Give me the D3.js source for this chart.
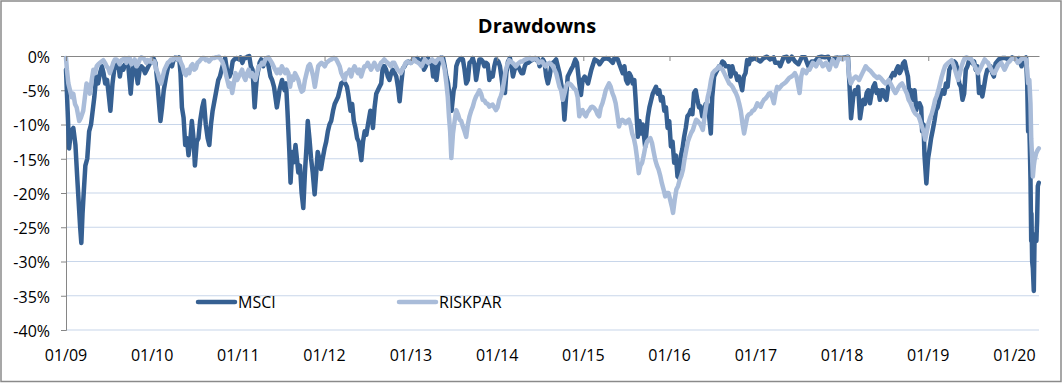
<!DOCTYPE html>
<html>
<head>
<meta charset="utf-8">
<script src="https://cdn.jsdelivr.net/npm/d3@7"></script>
<style>
  body { margin: 0; background: #fff; }
  svg { display: block; font-family: "Open Sans", sans-serif; }
</style>
</head>
<body>
<svg id="chart" width="1063" height="384"></svg>
<script>
// drawdown series, % from previous peak
var msci = [
  ["2009-01-01",-2],["2009-01-08",-8],["2009-01-14",-13.5],["2009-01-22",-11],["2009-02-01",-10.5],["2009-02-10",-13],["2009-02-18",-18],["2009-03-02",-25],["2009-03-07",-27.3],["2009-03-12",-23],["2009-03-17",-20],["2009-03-24",-16],["2009-04-01",-15],["2009-04-09",-11],["2009-04-17",-10],["2009-04-24",-8],["2009-05-01",-6],["2009-05-09",-3],["2009-05-17",-4],["2009-05-25",-2.5],["2009-06-02",-1.5],["2009-06-09",-2.5],["2009-06-16",-4],["2009-06-24",-3.5],["2009-07-02",-6],["2009-07-08",-8],["2009-07-17",-4],["2009-07-24",-2],["2009-08-01",-1.5],["2009-08-10",-1],["2009-08-17",-3],["2009-08-24",-1.5],["2009-09-01",-2],["2009-09-08",-1.2],["2009-09-16",-1],["2009-09-22",-1.5],["2009-10-02",-5.5],["2009-10-09",-2.5],["2009-10-16",-1],["2009-10-23",-2],["2009-11-01",-4],["2009-11-09",-2],["2009-11-16",-1.5],["2009-11-24",-1.8],["2009-12-02",-2.5],["2009-12-09",-2],["2009-12-16",-1.5],["2009-12-24",-1],
  ["2010-01-06",-0.3],["2010-01-15",-1],["2010-01-22",-3.5],["2010-01-29",-6.5],["2010-02-05",-9.5],["2010-02-12",-7.5],["2010-02-19",-5],["2010-03-01",-3],["2010-03-10",-1.5],["2010-03-18",-1],["2010-03-26",-1.5],["2010-04-02",-0.5],["2010-04-10",-0.2],["2010-04-17",-0.5],["2010-04-25",-0.2],["2010-05-01",-2.5],["2010-05-07",-7.5],["2010-05-14",-9],["2010-05-21",-13],["2010-05-28",-12],["2010-06-04",-14.5],["2010-06-11",-12.5],["2010-06-18",-9.5],["2010-06-25",-12],["2010-07-01",-16],["2010-07-09",-12.5],["2010-07-16",-12],["2010-07-23",-9.5],["2010-08-01",-7.5],["2010-08-08",-6.5],["2010-08-16",-10],["2010-08-24",-12],["2010-08-31",-13],["2010-09-07",-10],["2010-09-14",-8],["2010-09-22",-6.5],["2010-09-30",-5],["2010-10-08",-3.5],["2010-10-15",-3],["2010-10-22",-2],["2010-10-30",-1],["2010-11-06",-0.3],["2010-11-16",-2.5],["2010-11-24",-3],["2010-11-30",-2.5],["2010-12-08",-0.8],["2010-12-15",-0.5],["2010-12-24",-0.3],
  ["2011-01-03",-0.5],["2011-01-10",-0.2],["2011-01-18",-1],["2011-01-25",-0.3],["2011-02-01",-0.3],["2011-02-09",-0.1],["2011-02-16",0],["2011-02-23",-1.5],["2011-03-02",-2],["2011-03-11",-7.5],["2011-03-16",-5],["2011-03-21",-3],["2011-04-01",-1],["2011-04-08",-0.5],["2011-04-16",-1.5],["2011-04-25",-0.5],["2011-05-02",-0.3],["2011-05-09",-1.5],["2011-05-17",-3],["2011-05-24",-3.5],["2011-06-01",-4.5],["2011-06-07",-6],["2011-06-13",-7.5],["2011-06-20",-6],["2011-06-24",-5],["2011-07-05",-3.5],["2011-07-11",-4.5],["2011-07-16",-5],["2011-07-22",-4],["2011-07-28",-8],["2011-08-05",-14],["2011-08-10",-18.5],["2011-08-17",-14],["2011-08-24",-15.5],["2011-08-31",-13],["2011-09-06",-15],["2011-09-12",-17],["2011-09-19",-16],["2011-09-26",-20],["2011-10-03",-22.2],["2011-10-10",-17],["2011-10-17",-13],["2011-10-22",-9.5],["2011-10-29",-12],["2011-11-05",-15],["2011-11-12",-17],["2011-11-20",-20.2],["2011-11-27",-17],["2011-12-03",-14],["2011-12-10",-15],["2011-12-17",-16.5],["2011-12-24",-15],
  ["2012-01-01",-13.5],["2012-01-08",-12.5],["2012-01-15",-11],["2012-01-22",-10],["2012-01-29",-9.5],["2012-02-06",-8],["2012-02-13",-7],["2012-02-20",-6.5],["2012-02-27",-6],["2012-03-05",-5],["2012-03-12",-4],["2012-03-20",-3.8],["2012-03-29",-4],["2012-04-05",-4.5],["2012-04-10",-5.5],["2012-04-20",-8],["2012-04-27",-7],["2012-05-04",-9.5],["2012-05-11",-10.5],["2012-05-18",-12],["2012-05-25",-12.5],["2012-06-05",-15.2],["2012-06-12",-12.5],["2012-06-19",-11],["2012-06-26",-11.5],["2012-07-03",-10],["2012-07-13",-8],["2012-07-20",-9],["2012-07-24",-10.5],["2012-07-31",-7.5],["2012-08-07",-5.5],["2012-08-14",-5],["2012-08-21",-4.5],["2012-08-28",-4],["2012-09-04",-1.5],["2012-09-11",-1.5],["2012-09-18",-2],["2012-09-25",-3],["2012-10-02",-3.5],["2012-10-09",-2.5],["2012-10-16",-2],["2012-10-24",-2.5],["2012-10-31",-3],["2012-11-07",-4.5],["2012-11-14",-6.6],["2012-11-21",-4],["2012-11-28",-1.8],["2012-12-05",-1.5],["2012-12-12",-1],["2012-12-20",-0.8],
  ["2013-01-01",-1],["2013-01-10",-0.5],["2013-01-18",-0.5],["2013-01-28",-0.3],["2013-02-08",-1],["2013-02-18",-0.5],["2013-02-25",-2],["2013-03-05",-1.5],["2013-03-14",-0.3],["2013-03-22",-1],["2013-03-29",-0.8],["2013-04-05",-3],["2013-04-12",-1],["2013-04-19",-3.5],["2013-04-26",-1.5],["2013-05-03",-0.5],["2013-05-10",-0.2],["2013-05-17",-0.3],["2013-05-24",-1.5],["2013-05-31",-3],["2013-06-07",-4],["2013-06-14",-6],["2013-06-22",-8],["2013-07-01",-5],["2013-07-06",-4.5],["2013-07-12",-1.5],["2013-07-19",-0.8],["2013-07-26",-0.5],["2013-08-02",-0.3],["2013-08-09",-0.5],["2013-08-16",-2],["2013-08-23",-4],["2013-08-30",-3.5],["2013-09-06",-1],["2013-09-13",-0.8],["2013-09-20",-0.3],["2013-09-27",-1.2],["2013-10-04",-3.5],["2013-10-11",-2],["2013-10-18",-0.5],["2013-10-25",-0.5],["2013-11-01",-0.8],["2013-11-08",-1.5],["2013-11-15",-1],["2013-11-22",-1.2],["2013-11-29",-3.5],["2013-12-06",-2.5],["2013-12-13",-3],["2013-12-20",-1.5],["2013-12-27",-0.5],
  ["2014-01-06",-0.8],["2014-01-13",-1.5],["2014-01-19",-3],["2014-01-26",-5],["2014-02-03",-5.4],["2014-02-09",-2.5],["2014-02-16",-0.8],["2014-02-24",-0.3],["2014-03-03",-1.5],["2014-03-09",-3],["2014-03-16",-2],["2014-03-24",-1.5],["2014-03-31",-1.5],["2014-04-07",-2],["2014-04-14",-2.5],["2014-04-21",-2.5],["2014-04-28",-1.5],["2014-05-05",-1],["2014-05-12",-1],["2014-05-20",-0.8],["2014-06-02",-0.5],["2014-06-10",-0.3],["2014-06-17",-0.6],["2014-06-24",-0.5],["2014-06-30",-1.5],["2014-07-07",-1],["2014-07-14",-0.5],["2014-07-21",-1],["2014-07-28",-3],["2014-08-04",-4],["2014-08-11",-3],["2014-08-18",-1.5],["2014-08-25",-1],["2014-09-01",-0.8],["2014-09-08",-0.5],["2014-09-15",-1.5],["2014-09-22",-2.5],["2014-09-29",-4],["2014-10-06",-5.5],["2014-10-13",-9.3],["2014-10-20",-6],["2014-10-27",-3],["2014-11-03",-2.5],["2014-11-10",-2],["2014-11-18",-1.5],["2014-11-28",-0.5],["2014-12-05",-1],["2014-12-15",-4],["2014-12-22",-5.7],["2014-12-29",-3.5],
  ["2015-01-07",-3],["2015-01-21",-4],["2015-02-04",-2],["2015-02-18",-0.5],["2015-03-04",-0.8],["2015-03-11",-1.2],["2015-03-25",-0.5],["2015-04-08",-0.3],["2015-04-22",-0.5],["2015-05-06",-1],["2015-05-13",-0.3],["2015-05-27",-0.5],["2015-06-03",-1.2],["2015-06-17",-2.5],["2015-06-24",-1.5],["2015-07-01",-3.5],["2015-07-08",-4],["2015-07-15",-2.5],["2015-07-22",-3],["2015-07-29",-4],["2015-08-05",-3.5],["2015-08-10",-6],["2015-08-20",-11.8],["2015-08-27",-9.5],["2015-09-03",-11.3],["2015-09-10",-10],["2015-09-20",-13.3],["2015-10-01",-9],["2015-10-08",-7.5],["2015-10-15",-6.5],["2015-10-22",-5.5],["2015-10-29",-5],["2015-11-05",-4.5],["2015-11-12",-5.5],["2015-11-19",-5],["2015-11-26",-6.5],["2015-12-03",-6],["2015-12-10",-8],["2015-12-17",-7.5],["2015-12-24",-10.5],["2015-12-31",-9.5],
  ["2016-01-07",-13.2],["2016-01-14",-12.5],["2016-01-21",-15.6],["2016-01-28",-14.5],["2016-02-04",-17.6],["2016-02-11",-17.8],["2016-02-18",-14.6],["2016-02-25",-13.5],["2016-03-03",-11.8],["2016-03-10",-10.5],["2016-03-17",-8.8],["2016-03-24",-8.5],["2016-03-31",-7.9],["2016-04-07",-8.5],["2016-04-14",-5.4],["2016-04-21",-5],["2016-04-28",-6.4],["2016-05-05",-7.5],["2016-05-12",-7.4],["2016-05-19",-8.8],["2016-05-26",-8.4],["2016-06-02",-7],["2016-06-09",-7],["2016-06-16",-8.5],["2016-06-24",-11.3],["2016-06-30",-6],["2016-07-08",-3],["2016-07-15",-2.5],["2016-07-22",-2],["2016-07-29",-1.5],["2016-08-05",-1.5],["2016-08-12",-0.8],["2016-08-19",-1],["2016-08-26",-1.5],["2016-09-09",-1.5],["2016-09-16",-3],["2016-09-23",-1.5],["2016-09-30",-2.5],["2016-10-07",-2.5],["2016-10-14",-3.5],["2016-10-21",-3],["2016-10-28",-4],["2016-11-04",-5],["2016-11-11",-3],["2016-11-18",-2.5],["2016-11-25",-0.6],["2016-12-02",-1.2],["2016-12-09",-0.3],["2016-12-16",-0.5],["2016-12-23",-0.3],
  ["2017-01-06",-0.5],["2017-01-20",-0.8],["2017-02-03",-0.3],["2017-02-17",-0.1],["2017-03-03",-0.5],["2017-03-17",-0.2],["2017-03-24",-1],["2017-04-07",-1],["2017-04-14",-1.5],["2017-04-28",-0.2],["2017-05-12",-0.1],["2017-05-19",-0.8],["2017-06-02",-0.1],["2017-06-16",-0.8],["2017-06-30",-1.2],["2017-07-14",-0.2],["2017-07-28",-0.2],["2017-08-11",-1.5],["2017-08-25",-0.8],["2017-09-08",-0.8],["2017-09-22",-0.2],["2017-10-06",-0.1],["2017-10-20",-0.2],["2017-11-03",-0.1],["2017-11-17",-1],["2017-12-01",-0.3],["2017-12-15",-0.2],["2017-12-29",-0.3],
  ["2018-01-12",-0.2],["2018-01-26",-0.1],["2018-02-01",-4],["2018-02-08",-9.1],["2018-02-17",-6],["2018-02-24",-5],["2018-03-03",-5.5],["2018-03-10",-4.5],["2018-03-18",-9.1],["2018-03-25",-7.5],["2018-04-01",-6.4],["2018-04-08",-7],["2018-04-15",-5.4],["2018-04-22",-5],["2018-04-29",-6.9],["2018-05-06",-5.5],["2018-05-13",-4.5],["2018-05-20",-4],["2018-05-27",-5.4],["2018-06-03",-5],["2018-06-10",-6.4],["2018-06-17",-5],["2018-06-24",-5],["2018-07-01",-6],["2018-07-08",-6.4],["2018-07-15",-4.5],["2018-07-22",-3.5],["2018-07-29",-3],["2018-08-05",-2.5],["2018-08-12",-2.8],["2018-08-19",-2],["2018-08-26",-1.5],["2018-09-02",-2.5],["2018-09-09",-2],["2018-09-16",-1.1],["2018-09-23",-0.8],["2018-09-30",-2],["2018-10-07",-3],["2018-10-14",-5.9],["2018-10-21",-5],["2018-10-28",-6.4],["2018-11-04",-5],["2018-11-11",-7.9],["2018-11-18",-7],["2018-11-25",-6.9],["2018-12-02",-7.5],["2018-12-06",-11],["2018-12-12",-10],["2018-12-16",-14.5],["2018-12-24",-18.6],["2018-12-31",-15],
  ["2019-01-06",-13.7],["2019-01-13",-12],["2019-01-20",-10.8],["2019-01-27",-9.5],["2019-02-03",-7.9],["2019-02-10",-7.5],["2019-02-17",-6.4],["2019-02-24",-5.5],["2019-03-03",-5],["2019-03-10",-5.5],["2019-03-17",-4],["2019-03-24",-4.5],["2019-03-31",-2],["2019-04-07",-1.5],["2019-04-14",-1.1],["2019-04-21",-0.8],["2019-04-28",-1.1],["2019-05-05",-2],["2019-05-12",-4],["2019-05-19",-4.5],["2019-05-26",-6.4],["2019-06-02",-5.5],["2019-06-09",-2],["2019-06-16",-1.5],["2019-06-23",-0.6],["2019-06-30",-0.5],["2019-07-07",-1.1],["2019-07-14",-0.8],["2019-07-21",-2],["2019-07-28",-1.5],["2019-08-04",-5.4],["2019-08-11",-4.5],["2019-08-18",-5.9],["2019-08-25",-4.5],["2019-09-01",-3],["2019-09-08",-2],["2019-09-15",-2],["2019-09-22",-1.5],["2019-09-29",-2.5],["2019-10-06",-3],["2019-10-13",-1.1],["2019-10-20",-0.8],["2019-10-27",-0.5],["2019-11-10",-0.3],["2019-11-24",-0.3],["2019-12-08",-0.5],["2019-12-22",-0.2],
  ["2020-01-05",-0.5],["2020-01-19",-0.3],["2020-01-31",-1.5],["2020-02-09",-0.5],["2020-02-19",-0.2],["2020-02-24",-4],["2020-02-28",-11],["2020-03-03",-9],["2020-03-06",-13],["2020-03-09",-18],["2020-03-12",-27],["2020-03-13",-23],["2020-03-16",-30],["2020-03-19",-31],["2020-03-23",-34.3],["2020-03-26",-27],["2020-03-31",-26],["2020-04-03",-27],["2020-04-06",-24],["2020-04-09",-19],["2020-04-13",-18.5]
];

var riskpar = [
  ["2009-01-01",-0.3],["2009-01-05",-2],["2009-01-11",-4],["2009-01-18",-5],["2009-01-25",-6],["2009-02-01",-5.5],["2009-02-08",-7],["2009-02-15",-7.5],["2009-02-26",-9.5],["2009-03-05",-9],["2009-03-15",-8],["2009-03-22",-6],["2009-03-29",-4],["2009-04-05",-4.5],["2009-04-12",-5.5],["2009-04-20",-3.5],["2009-04-27",-2],["2009-05-04",-2.5],["2009-05-11",-1.5],["2009-05-18",-1.2],["2009-05-25",-1],["2009-06-01",-0.8],["2009-06-08",-0.6],["2009-06-15",-1],["2009-06-22",-1.5],["2009-06-29",-1.8],["2009-07-06",-2.5],["2009-07-13",-1.8],["2009-07-20",-1],["2009-07-27",-0.5],["2009-08-03",-0.5],["2009-08-10",-0.8],["2009-08-17",-1.2],["2009-08-24",-0.6],["2009-08-31",-0.5],["2009-09-07",-0.3],["2009-09-14",-1],["2009-09-21",-0.3],["2009-09-28",-0.3],["2009-10-05",-1.2],["2009-10-12",-1],["2009-10-19",-0.5],["2009-10-26",-1.5],["2009-11-02",-1.2],["2009-11-09",-0.5],["2009-11-16",-0.2],["2009-11-23",-0.3],["2009-11-30",-0.5],["2009-12-07",-1],["2009-12-14",-0.6],["2009-12-21",-0.8],["2009-12-28",-0.5],
  ["2010-01-04",-1],["2010-01-11",-0.8],["2010-01-18",-2],["2010-01-25",-2.5],["2010-02-01",-3.5],["2010-02-08",-4],["2010-02-15",-3],["2010-02-22",-2],["2010-03-01",-1.5],["2010-03-08",-1],["2010-03-15",-0.8],["2010-03-22",-0.5],["2010-03-29",-0.6],["2010-04-05",-0.3],["2010-04-12",-0.2],["2010-04-19",-0.5],["2010-04-26",-0.3],["2010-05-03",-1],["2010-05-10",-1.5],["2010-05-17",-2.5],["2010-05-24",-2.8],["2010-05-31",-2],["2010-06-07",-2.5],["2010-06-14",-1.5],["2010-06-21",-1.2],["2010-06-28",-2],["2010-07-05",-1.8],["2010-07-12",-1],["2010-07-19",-0.8],["2010-07-26",-0.5],["2010-08-02",-0.3],["2010-08-09",-0.3],["2010-08-16",-0.6],["2010-08-23",-0.5],["2010-08-30",-0.8],["2010-09-06",-0.5],["2010-09-13",-0.3],["2010-09-20",-0.3],["2010-09-27",-0.2],["2010-10-04",-0.2],["2010-10-11",-0.1],["2010-10-18",-0.5],["2010-10-25",-0.8],["2010-11-01",-1.5],["2010-11-08",-2.5],["2010-11-15",-3.5],["2010-11-22",-4.5],["2010-11-29",-4],["2010-12-06",-5.4],["2010-12-13",-4],["2010-12-20",-2.5],["2010-12-27",-3.5],
  ["2011-01-03",-3],["2011-01-10",-2.5],["2011-01-17",-2],["2011-01-24",-3],["2011-01-31",-3.5],["2011-02-07",-2.5],["2011-02-14",-2],["2011-02-21",-3],["2011-02-28",-2.5],["2011-03-07",-3],["2011-03-14",-3.5],["2011-03-21",-2.5],["2011-03-28",-1.5],["2011-04-04",-1.5],["2011-04-11",-1],["2011-04-18",-1.2],["2011-04-25",-0.5],["2011-05-02",-0.3],["2011-05-09",-0.2],["2011-05-16",-0.6],["2011-05-23",-1],["2011-05-30",-1.5],["2011-06-06",-2],["2011-06-13",-2.5],["2011-06-20",-2],["2011-06-27",-2.5],["2011-07-04",-1.5],["2011-07-11",-2],["2011-07-18",-2.5],["2011-07-25",-2],["2011-08-01",-2.5],["2011-08-08",-4.5],["2011-08-15",-3],["2011-08-22",-3.5],["2011-08-29",-2.5],["2011-09-05",-3],["2011-09-12",-3.5],["2011-09-19",-4.5],["2011-09-26",-5.2],["2011-10-03",-5],["2011-10-10",-3.5],["2011-10-17",-2.5],["2011-10-24",-1.5],["2011-10-31",-1.2],["2011-11-07",-2],["2011-11-14",-3],["2011-11-21",-4.5],["2011-11-28",-3],["2011-12-05",-1.5],["2011-12-12",-1.2],["2011-12-19",-1],["2011-12-26",-1.2],
  ["2012-01-02",-1.5],["2012-01-09",-1],["2012-01-16",-0.8],["2012-01-23",-0.6],["2012-01-30",-0.5],["2012-02-06",-0.3],["2012-02-13",-0.3],["2012-02-20",-0.5],["2012-02-27",-1],["2012-03-05",-1.5],["2012-03-12",-2.5],["2012-03-19",-3],["2012-03-26",-3.5],["2012-04-02",-2.5],["2012-04-09",-2.5],["2012-04-16",-2],["2012-04-23",-3],["2012-04-30",-2],["2012-05-07",-1.5],["2012-05-14",-2],["2012-05-21",-2.5],["2012-05-28",-2],["2012-06-04",-3],["2012-06-11",-2.2],["2012-06-18",-1.5],["2012-06-25",-1.5],["2012-07-02",-1],["2012-07-09",-1.5],["2012-07-16",-2],["2012-07-23",-1.5],["2012-07-30",-1],["2012-08-06",-1.5],["2012-08-13",-2],["2012-08-20",-1.5],["2012-08-27",-1],["2012-09-03",-0.8],["2012-09-10",-0.5],["2012-09-17",-0.8],["2012-09-24",-1],["2012-10-01",-1.2],["2012-10-08",-1.5],["2012-10-15",-1],["2012-10-22",-1],["2012-10-29",-1.5],["2012-11-05",-2],["2012-11-12",-2.2],["2012-11-19",-2.5],["2012-11-26",-2],["2012-12-03",-1.5],["2012-12-10",-1],["2012-12-17",-0.8],["2012-12-24",-1],
  ["2013-01-01",-1],["2013-01-08",-0.8],["2013-01-15",-0.5],["2013-01-22",-0.8],["2013-02-01",-1],["2013-02-08",-1.2],["2013-02-15",-1.5],["2013-02-22",-1],["2013-03-01",-0.5],["2013-03-08",-0.8],["2013-03-15",-1],["2013-03-22",-0.8],["2013-04-01",-0.5],["2013-04-08",-0.8],["2013-04-15",-1],["2013-04-22",-0.6],["2013-05-01",-0.3],["2013-05-10",-0.2],["2013-05-17",-1],["2013-05-24",-2],["2013-05-31",-4],["2013-06-06",-6],["2013-06-11",-8.8],["2013-06-16",-11],["2013-06-21",-14.9],["2013-06-28",-11.3],["2013-07-05",-9.5],["2013-07-12",-7.9],["2013-07-19",-8.5],["2013-07-26",-9.3],["2013-08-02",-9.5],["2013-08-09",-10.3],["2013-08-16",-11],["2013-08-23",-11.8],["2013-08-30",-10],["2013-09-06",-8.8],["2013-09-13",-8],["2013-09-20",-7.4],["2013-09-27",-6.5],["2013-10-04",-5.9],["2013-10-11",-5.5],["2013-10-18",-5],["2013-10-25",-5.5],["2013-11-01",-6.4],["2013-11-08",-6.5],["2013-11-15",-6.9],["2013-11-22",-7],["2013-11-29",-7.4],["2013-12-06",-7.2],["2013-12-13",-7.1],["2013-12-20",-7.5],["2013-12-27",-7.9],
  ["2014-01-03",-7.5],["2014-01-10",-6.4],["2014-01-17",-5.8],["2014-01-24",-5],["2014-01-31",-3.5],["2014-02-07",-2],["2014-02-14",-1.2],["2014-02-21",-0.6],["2014-02-28",-0.8],["2014-03-07",-1],["2014-03-14",-1.2],["2014-03-21",-1.5],["2014-03-28",-1.2],["2014-04-04",-1],["2014-04-11",-0.8],["2014-04-18",-0.8],["2014-04-25",-0.6],["2014-05-02",-0.5],["2014-05-09",-0.4],["2014-05-16",-0.3],["2014-05-23",-0.3],["2014-05-30",-0.5],["2014-06-06",-0.4],["2014-06-13",-0.3],["2014-06-20",-0.6],["2014-06-27",-1],["2014-07-04",-0.8],["2014-07-11",-0.8],["2014-07-18",-1.2],["2014-07-25",-1.5],["2014-08-01",-1.2],["2014-08-11",-1],["2014-08-18",-1.2],["2014-08-25",-1.5],["2014-09-01",-2],["2014-09-08",-2.5],["2014-09-15",-3.5],["2014-09-22",-4.5],["2014-09-29",-5],["2014-10-06",-6.4],["2014-10-13",-5.5],["2014-10-20",-4.5],["2014-10-27",-4],["2014-11-03",-4],["2014-11-10",-4.2],["2014-11-17",-4.5],["2014-11-24",-4.8],["2014-12-01",-5],["2014-12-08",-6],["2014-12-15",-8.8],["2014-12-22",-8],["2014-12-29",-7.9],
  ["2015-01-05",-8.5],["2015-01-12",-8.8],["2015-01-19",-8.2],["2015-01-26",-7.9],["2015-02-02",-7.5],["2015-02-09",-7.4],["2015-02-16",-7.6],["2015-02-23",-7.9],["2015-03-02",-8.5],["2015-03-09",-8.8],["2015-03-16",-7.5],["2015-03-23",-6.9],["2015-03-30",-6],["2015-04-06",-5],["2015-04-13",-4.5],["2015-04-20",-4],["2015-04-27",-4.5],["2015-05-04",-5.4],["2015-05-11",-6],["2015-05-18",-6.9],["2015-05-25",-8.5],["2015-06-01",-10.3],["2015-06-08",-9.5],["2015-06-15",-9.3],["2015-06-22",-9.5],["2015-06-29",-9.8],["2015-07-06",-9.5],["2015-07-13",-9.3],["2015-07-20",-10],["2015-07-27",-11.3],["2015-08-03",-12],["2015-08-10",-13.2],["2015-08-17",-15],["2015-08-24",-17.1],["2015-08-31",-16],["2015-09-07",-15.6],["2015-09-14",-14.5],["2015-09-21",-13.2],["2015-09-28",-12.5],["2015-10-05",-12.2],["2015-10-12",-12],["2015-10-19",-12.7],["2015-10-26",-14],["2015-11-02",-15.2],["2015-11-09",-16],["2015-11-16",-16.6],["2015-11-23",-17.5],["2015-11-30",-18.6],["2015-12-07",-19.5],["2015-12-14",-20.5],["2015-12-21",-20],["2015-12-28",-20],
  ["2016-01-04",-21],["2016-01-11",-22],["2016-01-16",-22.9],["2016-01-23",-21],["2016-01-30",-19.5],["2016-02-06",-19],["2016-02-13",-18.1],["2016-02-20",-17.5],["2016-02-27",-16.6],["2016-03-05",-15],["2016-03-12",-13.7],["2016-03-19",-12.5],["2016-03-26",-11.8],["2016-04-02",-11.2],["2016-04-09",-10.8],["2016-04-16",-10],["2016-04-23",-9.3],["2016-04-30",-9.5],["2016-05-07",-9.8],["2016-05-14",-10.2],["2016-05-21",-10.8],["2016-05-28",-9],["2016-06-04",-7.4],["2016-06-11",-6],["2016-06-18",-5],["2016-06-25",-3.5],["2016-07-02",-2.5],["2016-07-09",-2.2],["2016-07-16",-2],["2016-07-23",-1.8],["2016-07-30",-1.5],["2016-08-06",-1.8],["2016-08-13",-2],["2016-08-20",-2.5],["2016-08-27",-3],["2016-09-03",-3.5],["2016-09-10",-4],["2016-09-17",-4.2],["2016-09-24",-4.5],["2016-10-01",-5],["2016-10-08",-5.4],["2016-10-15",-6],["2016-10-22",-6.9],["2016-10-29",-8],["2016-11-05",-9.8],["2016-11-12",-11.3],["2016-11-19",-10],["2016-11-26",-8.8],["2016-12-03",-8.5],["2016-12-10",-8.4],["2016-12-17",-8],["2016-12-24",-7.9],["2016-12-31",-7.5],
  ["2017-01-07",-6.9],["2017-01-14",-7.2],["2017-01-21",-7.4],["2017-01-28",-6.8],["2017-02-04",-6.4],["2017-02-11",-6.2],["2017-02-18",-5.9],["2017-02-25",-5.5],["2017-03-04",-5.4],["2017-03-11",-6],["2017-03-18",-6.9],["2017-03-25",-5.5],["2017-04-01",-4.5],["2017-04-08",-4.8],["2017-04-15",-4.5],["2017-04-22",-4.2],["2017-05-01",-4],["2017-05-08",-3.8],["2017-05-15",-3.5],["2017-05-22",-3.2],["2017-06-01",-3],["2017-06-08",-2.8],["2017-06-15",-2.5],["2017-06-22",-3],["2017-07-05",-5.4],["2017-07-12",-3],["2017-07-19",-2],["2017-07-26",-2.2],["2017-08-02",-2.5],["2017-08-09",-2],["2017-08-16",-2],["2017-08-23",-1.5],["2017-08-30",-1],["2017-09-06",-1.2],["2017-09-13",-1.5],["2017-09-20",-1],["2017-09-27",-0.6],["2017-10-04",-1],["2017-10-11",-1.5],["2017-10-18",-1.2],["2017-10-25",-1],["2017-11-01",-1.5],["2017-11-08",-2],["2017-11-15",-1.2],["2017-11-22",-0.6],["2017-11-29",-1],["2017-12-06",-1.5],["2017-12-13",-0.8],["2017-12-20",-0.2],["2017-12-27",-0.4],
  ["2018-01-03",-0.5],["2018-01-10",-0.3],["2018-01-17",-0.3],["2018-01-24",-0.2],["2018-01-31",-3],["2018-02-07",-4],["2018-02-14",-3.5],["2018-02-21",-3.2],["2018-02-28",-3],["2018-03-07",-3.2],["2018-03-14",-3.5],["2018-03-21",-3],["2018-03-28",-2.5],["2018-04-04",-2],["2018-04-11",-1.5],["2018-04-18",-1.8],["2018-04-25",-2],["2018-05-02",-2.2],["2018-05-09",-2.5],["2018-05-16",-2.8],["2018-05-23",-3],["2018-05-30",-3.2],["2018-06-06",-3],["2018-06-13",-3.2],["2018-06-20",-3.5],["2018-06-27",-3.8],["2018-07-04",-4],["2018-07-11",-3.8],["2018-07-18",-3.5],["2018-07-25",-4],["2018-08-01",-4.5],["2018-08-08",-5],["2018-08-15",-5.4],["2018-08-22",-5],["2018-08-29",-4.5],["2018-09-05",-4.2],["2018-09-12",-4],["2018-09-19",-4.5],["2018-09-26",-5],["2018-10-03",-5.5],["2018-10-10",-6.4],["2018-10-17",-6.8],["2018-10-24",-7.4],["2018-10-31",-8],["2018-11-07",-8.4],["2018-11-14",-8.6],["2018-11-21",-8.8],["2018-11-28",-9.5],["2018-12-05",-10.3],["2018-12-12",-11],["2018-12-19",-12.2],["2018-12-26",-11],
  ["2019-01-02",-9.8],["2019-01-09",-9],["2019-01-16",-8.4],["2019-01-23",-7.5],["2019-01-30",-6.4],["2019-02-06",-5.8],["2019-02-13",-5],["2019-02-20",-4],["2019-02-27",-3],["2019-03-06",-2.2],["2019-03-13",-1.5],["2019-03-20",-1.2],["2019-03-27",-1],["2019-04-03",-0.8],["2019-04-10",-0.6],["2019-04-17",-1.2],["2019-04-24",-2],["2019-05-01",-2.8],["2019-05-08",-3.5],["2019-05-15",-2.5],["2019-05-22",-1.5],["2019-05-29",-0.8],["2019-06-05",-0.3],["2019-06-12",-0.2],["2019-06-19",-0.3],["2019-06-26",-0.4],["2019-07-03",-0.5],["2019-07-10",-1],["2019-07-17",-1.5],["2019-07-24",-2],["2019-07-31",-2.5],["2019-08-07",-2],["2019-08-14",-1.5],["2019-08-21",-1],["2019-08-28",-0.5],["2019-09-04",-0.8],["2019-09-11",-1],["2019-09-18",-1.5],["2019-09-25",-2],["2019-10-02",-2.5],["2019-10-09",-2.5],["2019-10-16",-2],["2019-10-23",-1.5],["2019-10-30",-1.2],["2019-11-06",-1],["2019-11-13",-1.5],["2019-11-20",-2],["2019-11-27",-1.5],["2019-12-04",-1],["2019-12-11",-0.8],["2019-12-18",-0.5],["2019-12-25",-0.4],
  ["2020-01-01",-0.3],["2020-01-08",-0.6],["2020-01-15",-1],["2020-01-22",-0.8],["2020-01-29",-0.5],["2020-02-05",-0.4],["2020-02-12",-0.3],["2020-02-19",-0.5],["2020-02-24",-2],["2020-02-28",-4],["2020-03-04",-3.5],["2020-03-09",-7],["2020-03-12",-12],["2020-03-16",-15],["2020-03-19",-17.6],["2020-03-23",-16],["2020-03-26",-15.2],["2020-04-02",-14.2],["2020-04-09",-13.7],["2020-04-13",-13.5]
];

var seriesNames = ["MSCI", "RISKPAR"];
var seriesColors = ["#366092", "#a9bcd9"];
var yTicks = [0, -5, -10, -15, -20, -25, -30, -35, -40];
var xStart = "2009-01-01", xEnd = "2020-04-14";

var plot = { left: 66, right: 1039, top: 56, bottom: 330 };
var svg = d3.select("#chart");
var parse = d3.timeParse("%Y-%m-%d");

var x = d3.scaleTime()
  .domain([parse(xStart), parse(xEnd)])
  .range([plot.left, plot.right]);
var y = d3.scaleLinear()
  .domain([-40, 0])
  .range([plot.bottom, plot.top]);

svg.append("rect")
  .attr("width", 1063).attr("height", 384)
  .attr("fill", "#fff");
svg.append("rect")
  .attr("x", 1).attr("y", 1).attr("width", 1060).attr("height", 380.5)
  .attr("fill", "none").attr("stroke", "#8a8a8a").attr("stroke-width", 1.5);

svg.append("text")
  .attr("x", 537).attr("y", 33)
  .attr("text-anchor", "middle")
  .attr("font-size", 20).attr("font-weight", "bold")
  .attr("fill", "#000")
  .text("Drawdowns");

// gridlines
svg.append("g").selectAll("line")
  .data(yTicks.filter(d => d != 0))
  .enter().append("line")
  .attr("x1", plot.left).attr("x2", plot.right)
  .attr("y1", d => y(d)).attr("y2", d => y(d))
  .attr("stroke", "#c8d6ea").attr("stroke-width", 1.2);

// y axis
var yAxis = svg.append("g")
  .attr("transform", "translate(" + plot.left + ",0)")
  .call(d3.axisLeft(y).tickValues(yTicks).tickSize(5).tickPadding(11).tickFormat(d => d + "%"));
yAxis.select(".domain").attr("stroke", "#868686");
yAxis.selectAll(".tick line").attr("stroke", "#868686");
yAxis.selectAll("text")
  .attr("font-family", "Open Sans").attr("font-size", 16).attr("fill", "#000")
  .attr("dy", "0.4em");

// lines
var line = d3.line()
  .x(d => x(parse(d[0])))
  .y(d => y(d[1]));

[msci, riskpar].forEach(function (s, i) {
  svg.append("path")
    .datum(s)
    .attr("fill", "none")
    .attr("stroke", seriesColors[i])
    .attr("stroke-width", 4.5)
    .attr("stroke-linejoin", "round")
    .attr("stroke-linecap", "round")
    .attr("d", line);
});

// x axis sits on the 0% line, labels at the bottom
var years = d3.timeYear.range(parse(xStart), parse("2020-02-01"));
var xAxis = svg.append("g")
  .attr("transform", "translate(0," + plot.top + ")")
  .call(d3.axisBottom(x).tickValues(years).tickSize(5).tickSizeOuter(0).tickFormat(""));
xAxis.select(".domain").attr("stroke", "#868686");
xAxis.selectAll(".tick line").attr("stroke", "#868686");

svg.append("g").selectAll("text")
  .data(years)
  .enter().append("text")
  .attr("x", d => x(d))
  .attr("y", 361)
  .attr("text-anchor", "middle")
  .attr("font-size", 16).attr("fill", "#000")
  .text(d3.timeFormat("%m/%y"));

// legend
var legendX = [198, 399];
seriesNames.forEach(function (name, i) {
  svg.append("line")
    .attr("x1", legendX[i]).attr("x2", legendX[i] + 37)
    .attr("y1", 302).attr("y2", 302)
    .attr("stroke", seriesColors[i]).attr("stroke-width", 4.5)
    .attr("stroke-linecap", "round");
  svg.append("text")
    .attr("x", legendX[i] + 40).attr("y", 307.5)
    .attr("font-size", 16).attr("fill", "#000")
    .text(name);
});
</script>
</body>
</html>
